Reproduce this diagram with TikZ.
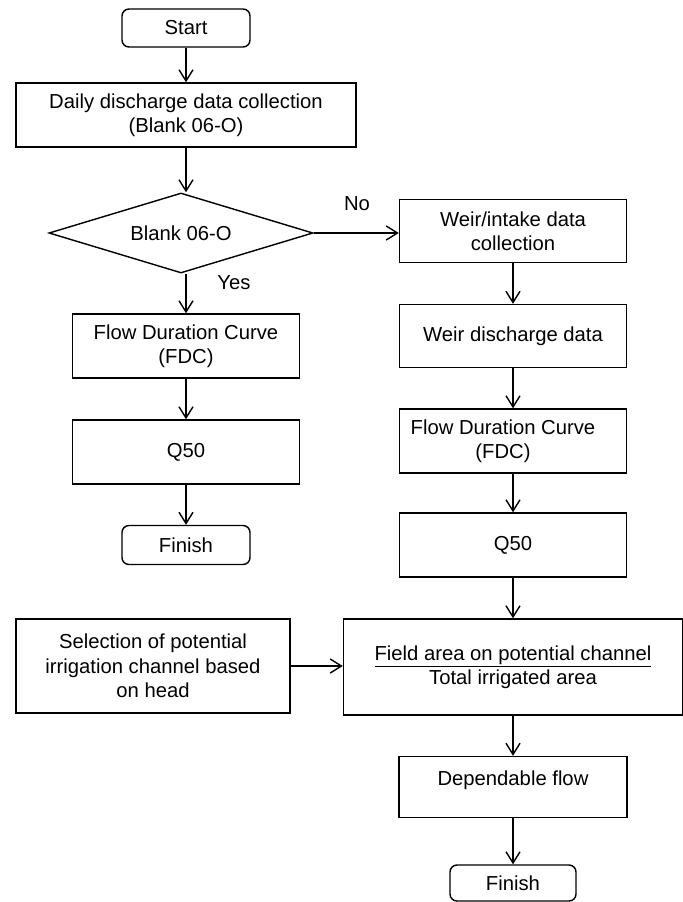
\documentclass[tikz,border=0pt]{standalone}
\usepackage{fontspec}
\setmainfont{Liberation Sans}
\usetikzlibrary{shapes.geometric,arrows.meta}

\begin{document}
\begin{tikzpicture}[x=0.025cm,y=-0.025cm,
    font=\fontsize{14.4}{17.3}\selectfont,
    every node/.style={align=center, inner sep=0pt},
    box/.style={draw, line width=1pt, rectangle},
    term/.style={draw, line width=1pt, rounded corners=5pt},
    decision/.style={draw, line width=1pt, diamond, aspect=3.3},
    arr/.style={line width=1pt, -{Straight Barb[length=8pt,width=10pt]}}]
    % Page frame
    \useasboundingbox (0,0) rectangle (683,902);

    % Left column: discharge data
    \node[term, minimum width=3.2cm, minimum height=0.95cm] (start) at (186,28) {Start};
    \node[box, minimum width=8.5cm, minimum height=1.6cm] (daily) at (186,115)
        {Daily discharge data collection\\(Blank 06-O)};
    \node[decision, minimum width=6.6cm, minimum height=2cm] (dec) at (181,233) {Blank 06-O};
    \node[box, minimum width=5.675cm, minimum height=1.6cm] (fdcA) at (186,346)
        {Flow Duration Curve\\(FDC)};
    \node[box, minimum width=5.675cm, minimum height=1.6cm] (qA) at (186,452) {Q50};
    \node[term, minimum width=3.2cm, minimum height=0.975cm] (finA) at (186,545) {Finish};

    % Right column: weir data
    \node[box, minimum width=5.675cm, minimum height=1.575cm] (weir) at (513,231)
        {Weir/intake data\\collection};
    \node[box, minimum width=5.675cm, minimum height=1.575cm] (weirq) at (513,336)
        {Weir discharge data};
    \node[box, minimum width=5.675cm, minimum height=1.6cm] (fdcB) at (513,441)
        {Flow Duration Curve\hspace*{0.5cm}\\(FDC)\hspace*{0.5cm}};
    \node[box, minimum width=5.675cm, minimum height=1.6cm] (qB) at (513,545) {Q50};

    % Bottom part
    \node[box, minimum width=6.85cm, minimum height=2.35cm] (sel) at (153,666)
        {Selection of potential\\irrigation channel based\\on head};
    \node[box, minimum width=8.475cm, minimum height=2.4cm] (field) at (513,667)
        {\underline{Field area on potential channel}\\Total irrigated area};
    \node[box, minimum width=5.7cm, minimum height=1.525cm, text depth=13pt] (dep) at (513,787)
        {Dependable flow};
    \node[term, minimum width=3.15cm, minimum height=0.9cm] (finB) at (513,883) {Finish};

    % Branch labels
    \node (no) at (357,204) {No};
    \node (yes) at (234,283) {Yes};

    % Connectors
    \draw[arr] (start) -- (daily);
    \draw[arr] (daily.south) -- (daily.south |- dec.north);
    \draw[arr] (dec.south -| fdcA.north) -- (fdcA.north);
    \draw[arr] (fdcA) -- (qA);
    \draw[arr] (qA) -- (finA);
    \draw[arr] (dec.east) -- (dec.east -| weir.west);
    \draw[arr] (weir) -- (weirq);
    \draw[arr] (weirq) -- (fdcB);
    \draw[arr] (fdcB) -- (qB);
    \draw[arr] (qB) -- (field);
    \draw[arr] (sel.east) -- (sel.east -| field.west);
    \draw[arr] (field) -- (dep);
    \draw[arr] (dep) -- (finB);
\end{tikzpicture}
\end{document}
